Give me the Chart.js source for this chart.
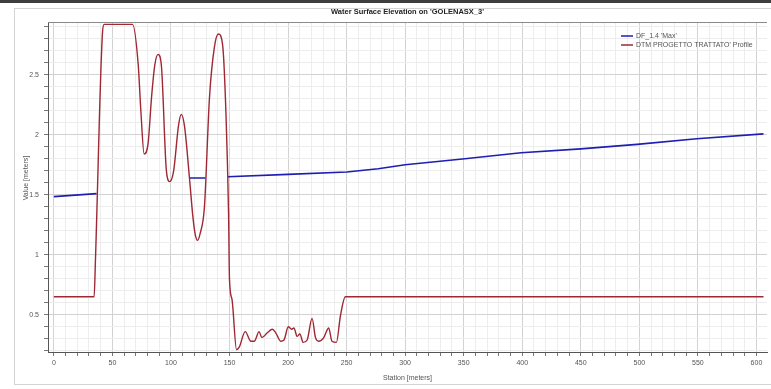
<!DOCTYPE html>
<html>
<head>
<meta charset="utf-8">
<script src="https://cdn.jsdelivr.net/npm/chart.js@4/dist/chart.umd.min.js"></script>
<style>
    html, body { margin: 0; padding: 0; background: #ffffff; }
    body { width: 771px; height: 389px; position: relative; overflow: hidden; font-family: "Liberation Sans", Arial, sans-serif; }
    .topbar { position: absolute; left: 0; top: 0; width: 771px; height: 3px; background: #3d3d3d; }
    .panel { position: absolute; left: 14px; top: 8px; width: 760px; height: 377px; border: 1px solid #d4d4d4; box-sizing: border-box; }
    #wrap { position: absolute; left: 0; top: 0; width: 771px; height: 389px; }
</style>
</head>
<body>
<div class="topbar"></div>
<div class="panel"></div>
<div id="wrap"><canvas id="wsChart"></canvas></div>
<script>
// Ground profile (DTM PROGETTO TRATTATO)
const profileStations = [0, 34.4, 35.5, 41.6, 42.9, 67.2, 72.0, 74.3, 77.1, 80.5, 83.4, 86.2, 89.0, 91.8, 96.1, 98.9, 102.3,
    106.5, 108.8, 111.6, 115.9, 118.7, 120.7, 122.7, 125.0, 128.6, 132.9, 137.1, 140.5, 144.1, 147.0, 149.2, 150.0, 152.1, 156.0,
    158.3, 163.4, 168.3, 171.1, 175.3, 177.6, 182.3, 186.6, 189.5, 193.7, 196.5, 200.2, 203.1, 205.0,
    207.8, 210.1, 212.9, 216.3, 220.5, 223.4, 226.2, 230.5, 234.7, 237.5, 241.3, 244.7, 248.9, 606];
const profileElev = [0.65, 0.65, 0.95, 2.86, 2.92, 2.92, 2.59, 2.2, 1.84, 1.93, 2.31, 2.58, 2.67, 2.58, 1.70, 1.61, 1.70,
    2.08, 2.17, 2.07, 1.63, 1.32, 1.17, 1.12, 1.18, 1.40, 2.31, 2.73, 2.84, 2.75, 2.17, 1.34, 0.79, 0.63, 0.21,
    0.23, 0.36, 0.28, 0.28, 0.36, 0.31, 0.35, 0.38, 0.35, 0.28, 0.29, 0.40, 0.38, 0.39,
    0.32, 0.34, 0.27, 0.29, 0.47, 0.31, 0.28, 0.31, 0.39, 0.28, 0.27, 0.49, 0.65, 0.65];

// Water surface (DF_1.4 'Max'), null = hidden under the ground
const wsStations = [0, 36.5, 36.6, 115.9, 129.5, 129.6, 148.5, 200, 250, 277, 300, 351, 399, 450, 498, 549, 606];
const wsElev = [1.485, 1.51, null, 1.64, 1.64, null, 1.65, 1.67, 1.69, 1.717, 1.75, 1.80, 1.85, 1.883, 1.92, 1.967, 2.008];

const seriesLabels = ["DF_1.4 'Max'", "DTM PROGETTO TRATTATO' Profile"];
const seriesColors = ['#1e1eb4', '#9e2834'];

const xTickValues = [];
for (let v = 0; v <= 600; v += 10) xTickValues.push(v);
const yTickValues = [];
for (let i = 2; i <= 29; i++) yTickValues.push(i / 10);

const chartTitle = "Water Surface Elevation on 'GOLENASX_3'";
const tickFont = { family: 'Liberation Sans, Arial, sans-serif', size: 7 };
const textColor = '#555555';

function toPoints(xs, ys) {
    return xs.map((x, i) => ({ x: x, y: ys[i] }));
}

function gridColor(ctx, major) {
    if (!ctx.tick) return '#ececec';
    const v = Math.round(ctx.tick.value * 10);
    return v % major === 0 ? '#d2d2d2' : '#ededed';
}

// frame, title, legend and y title drawn on the canvas
const decorPlugin = {
    id: 'decor',
    afterDraw(chart) {
        const ctx = chart.ctx;
        const a = chart.chartArea;
        ctx.save();
        ctx.strokeStyle = '#8a8a8a';
        ctx.lineWidth = 1;
        ctx.beginPath();
        ctx.moveTo(a.left, a.top + 0.5);
        ctx.lineTo(a.right, a.top + 0.5);
        ctx.stroke();

        ctx.fillStyle = '#222';
        ctx.font = 'bold 7.5px "Liberation Sans", Arial, sans-serif';
        ctx.textAlign = 'center';
        ctx.textBaseline = 'middle';
        ctx.fillText(chartTitle, (a.left + a.right) / 2, 12);

        ctx.fillStyle = textColor;
        ctx.font = '7px "Liberation Sans", Arial, sans-serif';
        ctx.save();
        ctx.translate(26, 178);
        ctx.rotate(-Math.PI / 2);
        ctx.fillText('Value [meters]', 0, 0);
        ctx.restore();

        // legend
        ctx.textAlign = 'left';
        seriesLabels.forEach((label, i) => {
            const y = 36 + i * 9;
            ctx.strokeStyle = seriesColors[i];
            ctx.lineWidth = 1.5;
            ctx.beginPath();
            ctx.moveTo(621, y);
            ctx.lineTo(633, y);
            ctx.stroke();
            ctx.fillStyle = textColor;
            ctx.fillText(label, 636, y);
        });
        ctx.restore();
    }
};

const ctx = document.getElementById('wsChart').getContext('2d');
const chart = new Chart(ctx, {
    type: 'line',
    data: {
        datasets: [{
            label: seriesLabels[0],
            data: toPoints(wsStations, wsElev),
            borderColor: seriesColors[0],
            borderWidth: 1.6,
            pointRadius: 0,
            tension: 0,
            spanGaps: false,
            order: 1
        }, {
            label: seriesLabels[1],
            data: toPoints(profileStations, profileElev),
            borderColor: seriesColors[1],
            borderWidth: 1.4,
            pointRadius: 0,
            cubicInterpolationMode: 'monotone',
            order: 0
        }]
    },
    options: {
        responsive: true,
        maintainAspectRatio: false,
        animation: false,
        layout: { padding: { left: 14, top: 22, right: 4, bottom: 7 } },
        plugins: {
            legend: { display: false },
            title: { display: false },
            tooltip: { enabled: false }
        },
        scales: {
            x: {
                type: 'linear',
                min: -5,
                max: 609,
                afterBuildTicks: axis => { axis.ticks = xTickValues.map(v => ({ value: v })); },
                afterFit: axis => { axis.height = 30; },
                ticks: {
                    autoSkip: false,
                    maxRotation: 0,
                    padding: 3,
                    font: tickFont,
                    color: textColor,
                    callback: v => (v % 50 === 0 ? String(v) : '')
                },
                grid: {
                    color: c => gridColor(c, 500),
                    tickLength: 4,
                    tickColor: '#777'
                },
                border: { color: '#555', width: 1 },
                title: {
                    display: true,
                    text: 'Station [meters]',
                    font: tickFont,
                    color: textColor,
                    padding: { top: 0, bottom: 0 }
                }
            },
            y: {
                type: 'linear',
                min: 0.19,
                max: 2.94,
                afterBuildTicks: axis => { axis.ticks = yTickValues.map(v => ({ value: v })); },
                afterFit: axis => { axis.width = 34; },
                ticks: {
                    autoSkip: false,
                    padding: 5,
                    font: tickFont,
                    color: textColor,
                    callback: v => (Math.round(v * 10) % 5 === 0 ? String(Math.round(v * 10) / 10) : '')
                },
                grid: {
                    color: c => gridColor(c, 5),
                    tickLength: 4,
                    tickColor: '#777'
                },
                border: { color: '#555', width: 1 }
            }
        }
    },
    plugins: [decorPlugin]
});
</script>
</body>
</html>
